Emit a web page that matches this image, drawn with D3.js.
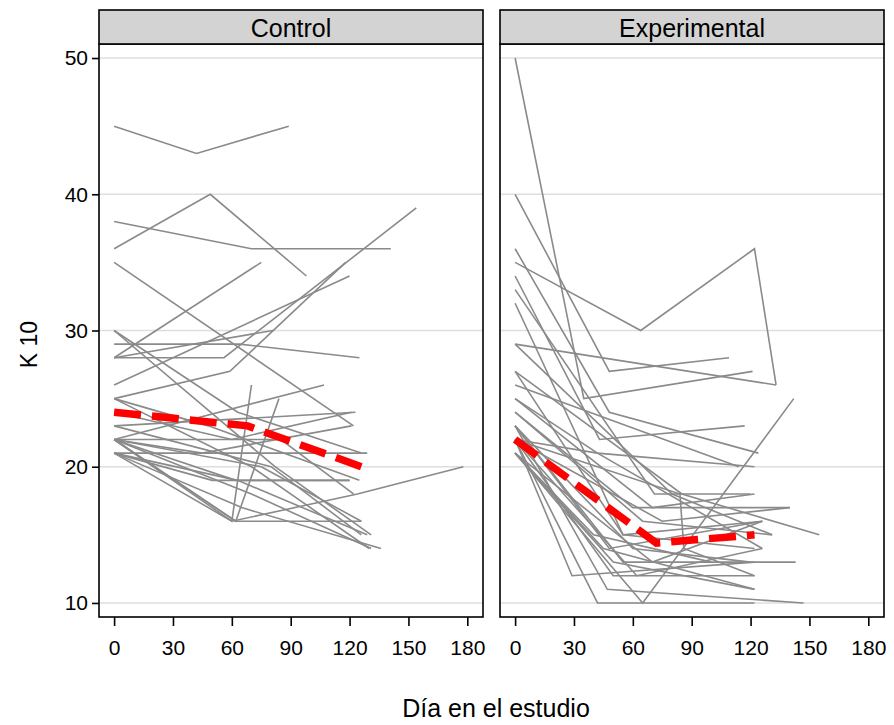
<!DOCTYPE html>
<html>
<head>
<meta charset="utf-8">
<script src="https://cdn.jsdelivr.net/npm/d3@7"></script>
<style>
  body { margin: 0; background: #fff; }
  svg text { font-family: "Liberation Sans", Arial, sans-serif; }
</style>
</head>
<body>
<div id="chart"></div>
<script>
// facets and axis ticks
const groups = ["Control", "Experimental"];
const xTicks = [0, 30, 60, 90, 120, 150, 180];
const yTicks = [10, 20, 30, 40, 50];

// one array of [day, K10] per subject
const controlSubjects = [
  [[0,45],[42,43],[89,45]],
  [[0,36],[49,40],[98,34]],
  [[0,38],[70,36],[141,36]],
  [[0,35],[122,23]],
  [[0,28],[75,35]],
  [[0,28],[56,28],[154,39]],
  [[0,29],[64,29],[125,28]],
  [[0,25],[59,27],[118,35]],
  [[0,28],[81,30]],
  [[0,26],[120,34]],
  [[0,30],[63,24],[126,21]],
  [[0,30],[82,20],[131,15]],
  [[0,22],[62,16],[126,16]],
  [[0,21],[60,16],[70,26]],
  [[0,22],[62,16],[84,25]],
  [[0,22],[60,16],[124,18],[178,20]],
  [[0,21],[129,21]],
  [[0,22],[62,19],[120,19]],
  [[0,23],[123,24]],
  [[0,22],[107,26]],
  [[0,21],[65,17],[136,14]],
  [[0,22],[70,18],[131,14]],
  [[0,23],[80,20],[126,15]],
  [[0,21],[63,19],[129,15]],
  [[0,25],[48,23],[125,19]],
  [[0,22],[45,21],[121,23]],
  [[0,25],[70,20],[130,14]],
  [[0,24],[60,22],[121,24]],
  [[0,22],[75,20],[126,16]],
  [[0,21],[50,19],[120,19]],
  [[0,22],[85,22],[122,18]]
];

const experimentalSubjects = [
  [[0,50],[35,25],[121,27]],
  [[0,40],[48,27],[109,28]],
  [[0,35],[64,30],[122,36],[133,26]],
  [[0,29],[133,26]],
  [[0,36],[48,24],[124,21]],
  [[0,21],[65,10],[142,25]],
  [[0,22],[42,10],[122,10]],
  [[0,23],[47,11],[147,10]],
  [[0,22],[29,12],[122,13]],
  [[0,34],[43,22],[117,23]],
  [[0,33],[71,18],[120,18]],
  [[0,32],[55,15],[126,16]],
  [[0,27],[85,18],[155,15]],
  [[0,26],[114,20]],
  [[0,25],[42,21],[126,14]],
  [[0,24],[60,17],[140,17]],
  [[0,23],[55,13],[143,13]],
  [[0,22],[50,12],[122,12]],
  [[0,21],[45,14],[122,11]],
  [[0,22],[62,12],[126,14]],
  [[0,29],[80,18],[131,15]],
  [[0,22],[84,18],[86,14],[122,12]],
  [[0,21],[70,13],[126,16]],
  [[0,23],[60,14],[120,13]],
  [[0,27],[55,15],[122,14]],
  [[0,22],[42,21],[122,20]],
  [[0,24],[65,16],[131,15]],
  [[0,21],[50,13],[122,11]],
  [[0,22],[75,16],[140,17]],
  [[0,23],[48,14],[126,16]],
  [[0,21],[40,15],[100,13]],
  [[0,25],[70,17],[122,18]]
];

// group means
const controlMean = [[0,24],[68,23],[126,20]];
const experimentalMean = [[0,22],[72,14.4],[122,15]];

const subjects = [controlSubjects, experimentalSubjects];
const means = [controlMean, experimentalMean];

const W = 894, H = 725;
const panelTop = 44, panelH = 573, stripTop = 10;
const panelX = [99, 500], panelW = 384;
const font = "'Liberation Sans', Arial, sans-serif";

const svg = d3.select("#chart").append("svg")
  .attr("width", W)
  .attr("height", H);

const x = d3.scaleLinear().domain([-7.7, 188]).range([0, panelW]);
const y = d3.scaleLinear().domain([8.97, 51.03]).range([panelH, 0]);

const line = d3.line().x(d => x(d[0])).y(d => y(d[1]));

groups.forEach((name, i) => {
  const g = svg.append("g").attr("transform", `translate(${panelX[i]},${panelTop})`);

  // grid
  g.selectAll(".grid")
    .data(yTicks)
    .enter().append("line")
    .attr("x1", 0).attr("x2", panelW)
    .attr("y1", d => y(d)).attr("y2", d => y(d))
    .attr("stroke", "#dedede")
    .attr("stroke-width", 1.5);

  // subject trajectories
  g.selectAll(".subj")
    .data(subjects[i])
    .enter().append("path")
    .attr("d", line)
    .attr("fill", "none")
    .attr("stroke", "#8a8a8a")
    .attr("stroke-width", 1.6);

  // mean
  g.append("path")
    .attr("d", line(means[i]))
    .attr("fill", "none")
    .attr("stroke", "#ff0000")
    .attr("stroke-width", 7.5)
    .attr("stroke-dasharray", "27,11");

  // panel frame
  g.append("rect")
    .attr("width", panelW).attr("height", panelH)
    .attr("fill", "none")
    .attr("stroke", "#000")
    .attr("stroke-width", 1.6);

  // strip
  svg.append("rect")
    .attr("x", panelX[i]).attr("y", stripTop)
    .attr("width", panelW).attr("height", panelTop - stripTop)
    .attr("fill", "#d3d3d3")
    .attr("stroke", "#000")
    .attr("stroke-width", 1.6);
  svg.append("text")
    .attr("x", panelX[i] + panelW / 2)
    .attr("y", stripTop + 27)
    .attr("text-anchor", "middle")
    .attr("font-size", 25)
    .text(name);

  // x axis
  const xa = g.append("g")
    .attr("transform", `translate(0,${panelH})`)
    .call(d3.axisBottom(x).tickValues(xTicks).tickSize(9).tickPadding(14));
  xa.select(".domain").remove();
  xa.selectAll("line").attr("stroke", "#000").attr("stroke-width", 1.6);
  xa.selectAll("text").attr("font-size", 21).attr("fill", "#000")
    .style("font-family", font);

  if (i === 0) {
    const ya = g.append("g")
      .call(d3.axisLeft(y).tickValues(yTicks).tickSize(7).tickPadding(4));
    ya.select(".domain").remove();
    ya.selectAll("line").attr("stroke", "#000").attr("stroke-width", 1.6);
    ya.selectAll("text").attr("font-size", 21).attr("fill", "#000")
      .style("font-family", font);
  }
});

svg.append("text")
  .attr("transform", `translate(37,${panelTop + panelH / 2 + 14}) rotate(-90)`)
  .attr("text-anchor", "middle")
  .attr("font-size", 23)
  .text("K 10");

svg.append("text")
  .attr("x", 496)
  .attr("y", 717)
  .attr("text-anchor", "middle")
  .attr("font-size", 25)
  .text("Día en el estudio");
</script>
</body>
</html>
